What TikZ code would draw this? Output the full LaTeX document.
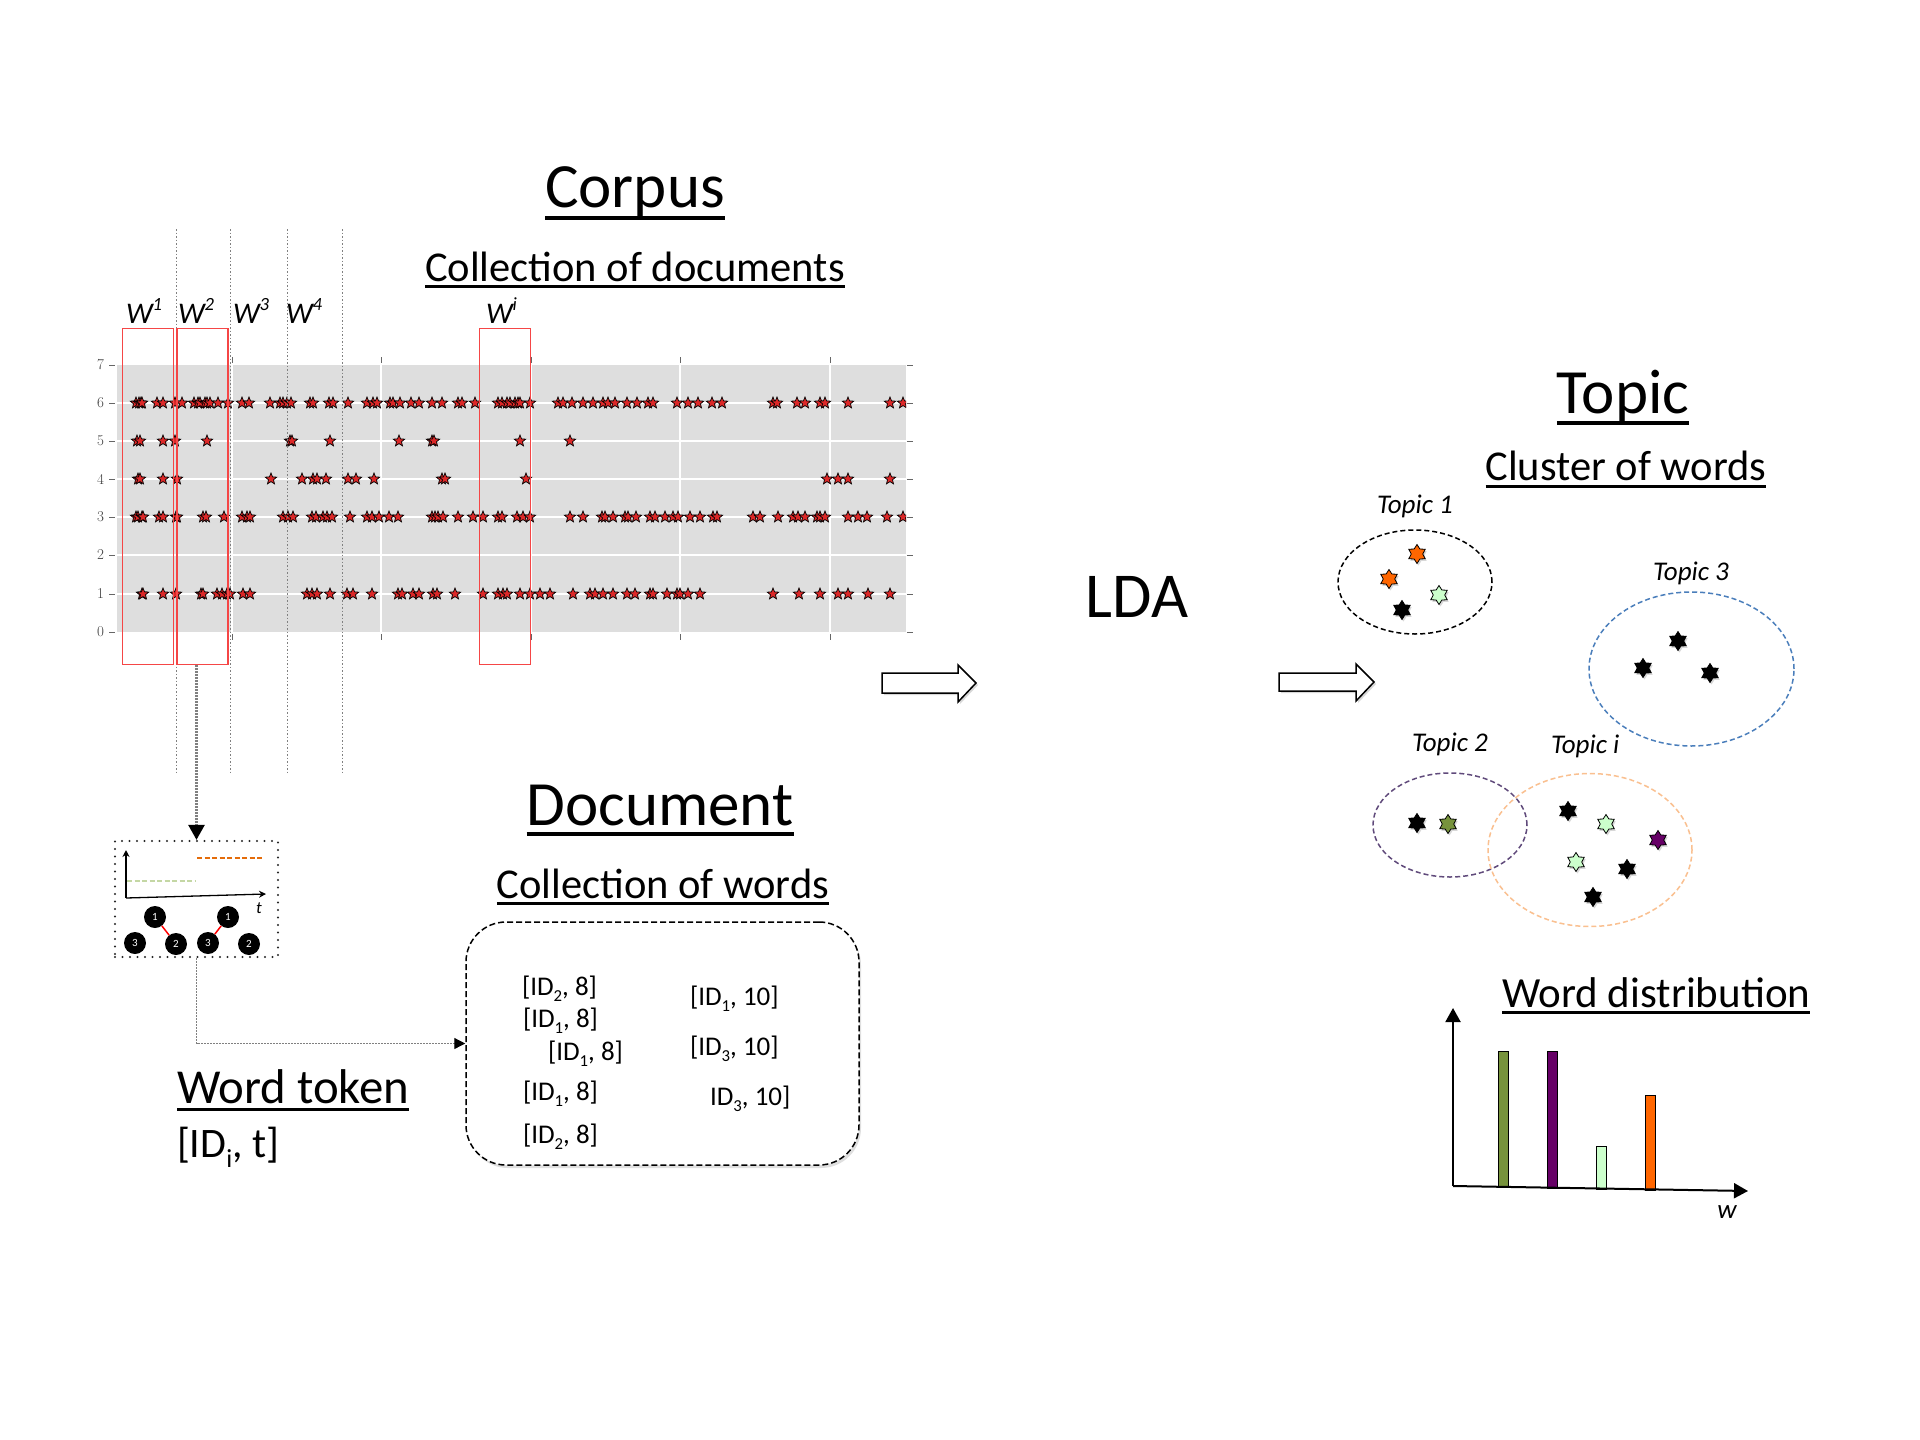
\documentclass[tikz,border=0pt]{standalone}
\usepackage{fontspec}
\setmainfont{Carlito}
\newfontfamily\lmfont{Latin Modern Roman}
\usetikzlibrary{shapes.geometric,arrows.meta,shadows}

\newcommand\lowsub[1]{\raisebox{-0.25em}{\scalebox{0.62}{#1}}}
\newcommand\highsup[1]{\raisebox{0.42em}{\scalebox{0.62}{#1}}}

\definecolor{plotgray}{HTML}{DEDEDE}
\definecolor{starred}{RGB}{220,40,40}
\definecolor{boxred}{RGB}{245,70,70}
\definecolor{dotgray}{HTML}{808080}
\definecolor{t3blue}{HTML}{4A7EBB}
\definecolor{t2purple}{HTML}{604A7B}
\definecolor{tiorange}{HTML}{FAC090}
\definecolor{wordorange}{HTML}{FF6600}
\definecolor{wordlgreen}{HTML}{CCFFCC}
\definecolor{wordolive}{HTML}{77933C}
\definecolor{wordpurple}{HTML}{660066}
\definecolor{tokgreen}{HTML}{C4D7A4}
\definecolor{tokorange}{HTML}{E46C0A}

\begin{document}
\begin{tikzpicture}[x=1pt,y=-1pt,
  txt/.style={inner sep=0pt, outer sep=0pt},
  title/.style={txt, font=\fontsize{63}{70}\selectfont, anchor=base},
  subtitle/.style={txt, font=\fontsize{42.5}{48}\selectfont, anchor=base},
  pstar/.style={star, star points=5, star point ratio=2.3, minimum size=12pt, inner sep=0pt, fill=starred, draw=black, line width=0.7pt},
  hstar/.style={star, star points=6, star point ratio=1.65, minimum size=19pt, inner sep=0pt, draw=black, line width=0.8pt, drop shadow={shadow xshift=1.5pt, shadow yshift=-2pt, opacity=0.3}},
  redbox/.style={draw=boxred, line width=1.3pt, inner sep=0pt, minimum width=51pt, minimum height=336pt},
  circ/.style={circle, fill=black, text=white, minimum size=22pt, inner sep=0pt, font=\fontsize{11}{11}\selectfont},
  docent/.style={txt, anchor=base west, font=\fontsize{27}{30}\selectfont},
  topiclab/.style={txt, anchor=base west, font=\itshape\fontsize{27}{30}\selectfont},
  wlab/.style={txt, anchor=base west, font=\itshape\fontsize{30}{32}\selectfont},
  topicell/.style={ellipse, draw, line width=1.5pt, dash pattern=on 5pt off 3pt, inner sep=0pt},
  tick/.style={black!60, line width=0.8pt},
  ylab/.style={txt, anchor=east, font=\lmfont\fontsize{15}{15}\selectfont, text=black!75},
  blockarrow/.style={fill=white, draw=black, line width=1.5pt, line join=miter, drop shadow={shadow xshift=2pt, shadow yshift=-2pt, opacity=0.3}}
]
\useasboundingbox (0,0) rectangle (1920,1440);
\fill[white] (0,0) rectangle (1920,1440);

% ---------- Corpus titles ----------
\node[title] (corpus) at (635,207) {Corpus};
\draw[line width=4pt] ([yshift=-11pt]corpus.base west) -- ([yshift=-11pt]corpus.base east);
\node[subtitle] (colldocs) at (635,281) {Collection of documents};
\draw[line width=3pt] ([yshift=-5pt]colldocs.base west) -- ([yshift=-5pt]colldocs.base east);

% ---------- plot ----------
\fill[plotgray] (117,365) rectangle (906,632);
\foreach \y in {403,441,479,517,555,594}
  \draw[white, line width=1.3pt] (117,\y) -- (906,\y);
\foreach \x in {232,381,531,680,830} {
  \draw[white, line width=1.3pt] (\x,365) -- (\x,632);
  \draw[tick] (\x,357) -- (\x,363);
  \draw[tick] (\x,634) -- (\x,640);
}
\foreach \k/\y in {7/365,6/403,5/441,4/479,3/517,2/555,1/594,0/632} {
  \draw[tick] (109,\y) -- (115,\y);
  \draw[tick] (907,\y) -- (913,\y);
  \node[ylab] (yl\k) at (104,\y) {\k};
}
\begin{scope}
\clip (117,365) rectangle (906,632);
\foreach \x [count=\i] in {136,139,141,142,157,163,175,182,194,198,200,205,207,210,218,228,242,249,270,280,283,287,291,310,313,329,333,348,367,373,377,390,393,400,411,419,432,442,458,462,475,498,502,507,510,515,518,520,530,558,563,572,583,593,603,608,615,627,637,648,653,677,688,698,712,722,773,777,797,805,820,825,848,890,903}
  \node[pstar] (rsix\i) at (\x,403) {};
\foreach \x [count=\i] in {137,140,163,175,207,290,292,330,399,432,434,520,570}
  \node[pstar] (rfive\i) at (\x,441) {};
\foreach \x [count=\i] in {138,140,163,177,271,302,313,317,326,348,356,374,442,445,526,827,838,848,890}
  \node[pstar] (rfour\i) at (\x,479) {};
\foreach \x [count=\i] in {136,138,142,143,159,163,176,177,203,206,224,242,247,250,283,288,293,312,316,323,327,332,350,367,372,379,389,398,432,435,438,443,458,473,483,498,502,517,523,530,570,583,602,605,613,625,628,636,650,655,665,673,678,690,700,713,717,753,760,778,793,798,805,817,820,825,848,858,867,887,903}
  \node[pstar] (rthree\i) at (\x,517) {};
\foreach \x [count=\i] in {142,143,163,176,201,203,217,222,227,230,243,250,307,312,317,330,347,353,372,398,402,413,419,433,437,455,483,498,503,507,520,530,540,550,573,590,595,603,613,627,635,650,653,667,677,680,688,700,773,799,820,838,848,868,890}
  \node[pstar] (rone\i) at (\x,594) {};
\end{scope}

% dotted window lines
\foreach \x in {176,230,287,342}
  \draw[dotgray, line width=1pt, dash pattern=on 1.5pt off 2pt] (\x,229) -- (\x,775);

% red window boxes
\node[redbox] (wonebox) at (148,496.5) {};
\node[redbox] (wtwobox) at (202.5,496.5) {};
\node[redbox] (wibox) at (505,496.5) {};

% W labels
\node[wlab] (wone) at (126,323) {W\highsup{1}};
\node[wlab] (wtwo) at (178,323) {W\highsup{2}};
\node[wlab] (wthree) at (233,323) {W\highsup{3}};
\node[wlab] (wfour) at (286,323) {W\highsup{4}};
\node[wlab] (wi) at (486,323) {W\highsup{i}};

% ---------- word token mini box ----------
\node[draw=black!85, line width=2.3pt, line cap=round, dash pattern=on 0pt off 7.5pt, minimum width=163pt, minimum height=116pt, inner sep=0pt] (tokbox) at (196.5,899) {};
\draw[dotgray, line width=2.6pt, dash pattern=on 2pt off 1pt, -{Triangle[width=16pt,length=15pt,color=black]}] (wtwobox.south -| tokbox.north) -- (tokbox.north);

\coordinate (tko) at (126,898);
\coordinate (tky) at (126,850);
\coordinate (tkx) at (266,894);
\draw[line width=1.3pt, -{Stealth[length=7pt,width=7pt]}] (tko) -- (tky);
\draw[line width=1.3pt, -{Stealth[length=7pt,width=7pt]}] (tko) -- (tkx);
\draw[tokgreen, line width=2.5pt, dash pattern=on 5pt off 2.5pt] (127,881) -- (195,881);
\draw[tokorange, line width=2.2pt, dash pattern=on 5pt off 2.5pt] (197,858) -- (262,858);
\node[txt, anchor=base, font=\itshape\fontsize{17}{17}\selectfont] (tlab) at (259,913) {t};

\node[circ] (cone) at (155,917) {1};
\node[circ] (ctwo) at (176,944) {2};
\node[circ] (cthree) at (135,943) {3};
\node[circ] (cfour) at (228,917) {1};
\node[circ] (cfive) at (208,943) {3};
\node[circ] (csix) at (249,944) {2};
\draw[red, line width=1.5pt] (cone) -- (ctwo);
\draw[red, line width=1.5pt] (cfour) -- (cfive);

% ---------- Word token label ----------
\node[txt, anchor=base west, font=\fontsize{48.8}{54}\selectfont] (wordtok) at (177,1103) {Word token};
\draw[line width=3pt] ([yshift=-6pt]wordtok.base west) -- ([yshift=-6pt]wordtok.base east);
\node[txt, anchor=base west, font=\fontsize{42}{46}\selectfont] (idt) at (177,1157) {[ID\lowsub{i}, t]};

% ---------- Document ----------
\node[title] (document) at (660,825) {Document};
\draw[line width=4pt] ([yshift=-9pt]document.base west) -- ([yshift=-9pt]document.base east);
\node[subtitle] (collwords) at (663,898) {Collection of words};
\draw[line width=3pt] ([yshift=-5pt]collwords.base west) -- ([yshift=-5pt]collwords.base east);

\node[draw=black, fill=white, line width=1.5pt, dash pattern=on 6pt off 3pt, rounded corners=40pt, minimum width=393pt, minimum height=243pt, inner sep=0pt, drop shadow={shadow xshift=2pt, shadow yshift=-3pt, opacity=0.25}] (docbox) at (662.5,1043.5) {};
\draw[dotgray, line width=1.3pt, dash pattern=on 2pt off 1pt, -{Triangle[width=11pt,length=11pt,color=black]}] (tokbox.south) |- (docbox.west);

\node[docent] (da) at (522,995) {[ID\lowsub{2}, 8]};
\node[docent] (db) at (523,1027) {[ID\lowsub{1}, 8]};
\node[docent] (dc) at (548,1060) {[ID\lowsub{1}, 8]};
\node[docent] (dd) at (523,1100) {[ID\lowsub{1}, 8]};
\node[docent] (de) at (523,1143) {[ID\lowsub{2}, 8]};
\node[docent] (df) at (690,1005) {[ID\lowsub{1}, 10]};
\node[docent] (dg) at (690,1055) {[ID\lowsub{3}, 10]};
\node[docent] (dh) at (710,1105) {ID\lowsub{3}, 10]};

% ---------- LDA and block arrows ----------
\node[txt, anchor=base, font=\fontsize{64}{70}\selectfont] (lda) at (1137,617) {LDA};
\path[blockarrow] (882,673) -- (958,673) -- (958,665) -- (976,683) -- (958,702) -- (958,693) -- (882,693) -- cycle;
\path[blockarrow] (1279,673) -- (1356,673) -- (1356,664) -- (1374,682) -- (1356,701) -- (1356,691) -- (1279,691) -- cycle;

% ---------- Topic ----------
\node[title] (topic) at (1623,413) {Topic};
\draw[line width=4pt] ([yshift=-10pt]topic.base west) -- ([yshift=-10pt]topic.base east);
\node[subtitle] (cluster) at (1626,480) {Cluster of words};
\draw[line width=3pt] ([yshift=-6pt]cluster.base west) -- ([yshift=-6pt]cluster.base east);

\node[topicell, draw=black, minimum width=154pt, minimum height=104pt] (tone) at (1415,582) {};
\node[topicell, draw=t3blue, minimum width=205pt, minimum height=154pt] (tthree) at (1691.5,669) {};
\node[topicell, draw=t2purple, minimum width=154pt, minimum height=104pt] (ttwo) at (1450,825) {};
\node[topicell, draw=tiorange, minimum width=204pt, minimum height=153pt] (ti) at (1590,850) {};

\node[topiclab] (tonelab) at (1377,513) {Topic 1};
\node[topiclab] (tthreelab) at (1653,580) {Topic 3};
\node[topiclab] (ttwolab) at (1412,751) {Topic 2};
\node[topiclab] (tilab) at (1551,753) {Topic i};

\node[hstar, fill=wordorange] (sa) at (1417,554) {};
\node[hstar, fill=wordorange] (sb) at (1389,579) {};
\node[hstar, fill=wordlgreen] (sc) at (1439,595) {};
\node[hstar, fill=black] (sd) at (1402,610) {};
\node[hstar, fill=black] (se) at (1678,641) {};
\node[hstar, fill=black] (sf) at (1643,668) {};
\node[hstar, fill=black] (sg) at (1710,673) {};
\node[hstar, fill=black] (sh) at (1417,823) {};
\node[hstar, fill=wordolive] (si) at (1448,824) {};
\node[hstar, fill=black] (sj) at (1568,811) {};
\node[hstar, fill=wordlgreen] (sk) at (1606,824) {};
\node[hstar, fill=wordpurple] (sl) at (1658,840) {};
\node[hstar, fill=wordlgreen] (sm) at (1576,862) {};
\node[hstar, fill=black] (sn) at (1627,869) {};
\node[hstar, fill=black] (so) at (1593,897) {};

% ---------- Word distribution ----------
\node[txt, anchor=base west, font=\fontsize{43}{48}\selectfont] (worddist) at (1502,1007) {Word distribution};
\draw[line width=3pt] ([yshift=-5pt]worddist.base west) -- ([yshift=-5pt]worddist.base east);

\filldraw[fill=wordolive, draw=black, line width=1pt] (1498,1051) rectangle (1508,1187);
\filldraw[fill=wordpurple, draw=black, line width=1pt] (1547,1051) rectangle (1557,1188);
\filldraw[fill=wordlgreen, draw=black, line width=1pt] (1596,1146) rectangle (1606,1189);
\filldraw[fill=wordorange, draw=black, line width=1pt] (1645,1095) rectangle (1655,1190);

\coordinate (wdo) at (1453,1186);
\coordinate (wdy) at (1453,1008);
\coordinate (wdx) at (1748,1191);
\draw[line width=2pt, -{Triangle[width=15pt,length=14pt]}] (wdo) -- (wdy);
\draw[line width=2pt, -{Triangle[width=15pt,length=14pt]}] (wdo) -- (wdx);
\node[txt, anchor=base, font=\itshape\fontsize{27}{27}\selectfont] (wdlab) at (1727,1218) {w};

\end{tikzpicture}
\end{document}
